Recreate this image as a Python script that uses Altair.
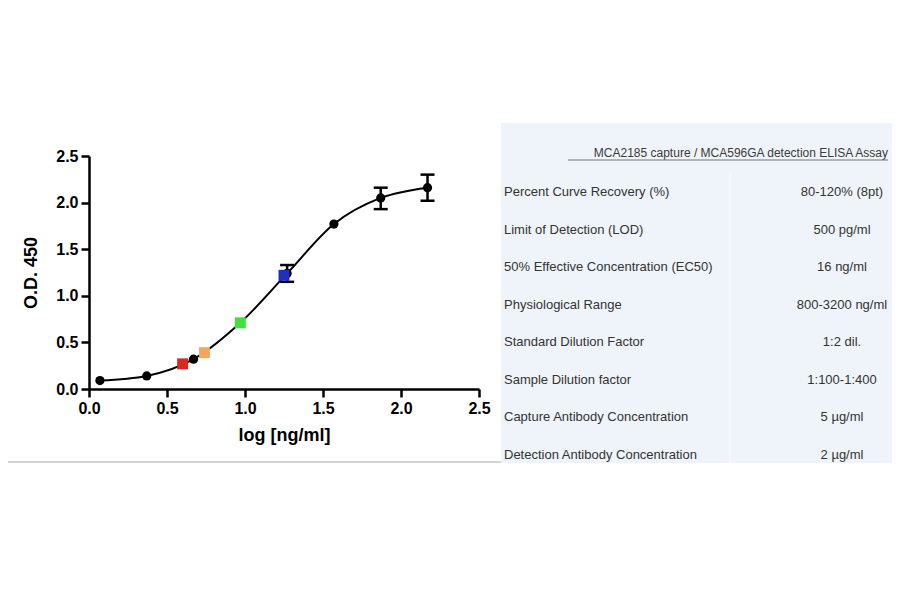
import altair as alt
import pandas as pd

# standard curve: log [ng/ml] vs O.D. 450
std_x = [0.07, 0.37, 0.67, 0.97, 1.27, 1.57, 1.87, 2.17]
std_y = [0.09, 0.14, 0.32, 0.71, 1.24, 1.77, 2.05, 2.16]

# error bars (lower / upper)
err_x = [1.27, 1.87, 2.17]
err_lo = [1.15, 1.93, 2.02]
err_hi = [1.33, 2.16, 2.30]

# samples drawn as coloured squares
smp_name = ['red', 'orange', 'green', 'blue']
smp_x = [0.60, 0.74, 0.97, 1.25]
smp_y = [0.27, 0.39, 0.71, 1.22]
smp_color = ['#d8281f', '#f2a660', '#3ee23a', '#1f30c0']

axis_ticks = [0.0, 0.5, 1.0, 1.5, 2.0, 2.5]

table_header = 'MCA2185 capture / MCA596GA detection ELISA Assay'
table_labels = [
    'Percent Curve Recovery (%)',
    'Limit of Detection (LOD)',
    '50% Effective Concentration (EC50)',
    'Physiological Range',
    'Standard Dilution Factor',
    'Sample Dilution factor',
    'Capture Antibody Concentration',
    'Detection Antibody Concentration',
]
table_values = [
    '80-120% (8pt)',
    '500 pg/ml',
    '16 ng/ml',
    '800-3200 ng/ml',
    '1:2 dil.',
    '1:100-1:400',
    '5 µg/ml',
    '2 µg/ml',
]

FONT = 'Liberation Sans'
W, H = 884, 560


def xenc(field):
    return alt.X(
        f'{field}:Q',
        scale=alt.Scale(domain=[0, 2.5], range=[81, 471], nice=False, zero=False),
        axis=alt.Axis(title='log [ng/ml]', values=axis_ticks, format='.1f',
                      offset=381 - H, titlePadding=10),
    )


def yenc(field):
    return alt.Y(
        f'{field}:Q',
        scale=alt.Scale(domain=[0, 2.5], range=[381, 148], nice=False, zero=False),
        axis=alt.Axis(title='O.D. 450', values=axis_ticks, format='.1f',
                      offset=-81, titlePadding=15),
    )


std_df = pd.DataFrame({'x': std_x, 'y': std_y})
err_df = pd.DataFrame({'x': err_x, 'lo': err_lo, 'hi': err_hi})
smp_df = pd.DataFrame({'name': smp_name, 'x': smp_x, 'y': smp_y})

curve = alt.Chart(std_df).mark_line(
    color='black', strokeWidth=2, interpolate='monotone'
).encode(x=xenc('x'), y=yenc('y'))

bars = alt.Chart(err_df).mark_rule(color='black', strokeWidth=2.5).encode(
    x=xenc('x'), y=yenc('lo'), y2='hi:Q'
)

caps = alt.Chart(err_df).transform_fold(['lo', 'hi']).mark_tick(
    color='black', orient='horizontal', size=14, thickness=2.5, opacity=1
).encode(x=xenc('x'), y=yenc('value'))

points = alt.Chart(std_df).mark_circle(color='black', size=85, opacity=1).encode(
    x=xenc('x'), y=yenc('y')
)

squares = alt.Chart(smp_df).mark_square(size=120, opacity=1).encode(
    x=xenc('x'), y=yenc('y'),
    color=alt.Color('name:N', scale=alt.Scale(domain=smp_name, range=smp_color), legend=None),
)

scatter = alt.layer(curve, bars, caps, points, squares)

# table on the right
one = pd.DataFrame({'a': [0]})
rows_df = pd.DataFrame({'label': table_labels, 'value': table_values})
yrow = alt.Y('label:N', scale=alt.Scale(type='point', domain=table_labels,
                                        range=[184, 447], padding=0), axis=None)

box = alt.Chart(one).mark_rect(color='#eef4f9').encode(
    x=alt.value(493), x2=alt.value(W), y=alt.value(115), y2=alt.value(455)
)
divider = alt.Chart(one).mark_rule(color='#f7fafc', strokeWidth=1.5).encode(
    x=alt.value(722), y=alt.value(165), y2=alt.value(455)
)
baseline = alt.Chart(one).mark_rule(color='#c4c4c4', strokeWidth=1.5).encode(
    x=alt.value(0), x2=alt.value(493), y=alt.value(454)
)
header = alt.Chart(pd.DataFrame({'t': [table_header]})).mark_text(
    align='right', baseline='middle', font=FONT, fontSize=12, color='#3a3a3a'
).encode(x=alt.value(880), y=alt.value(145), text='t:N')
underline = alt.Chart(one).mark_rule(color='#777777', strokeWidth=1).encode(
    x=alt.value(560), x2=alt.value(880), y=alt.value(152)
)
labels = alt.Chart(rows_df).mark_text(
    align='left', baseline='middle', font=FONT, fontSize=13, color='#333333'
).encode(x=alt.value(496), y=yrow, text='label:N')
values = alt.Chart(rows_df).mark_text(
    align='center', baseline='middle', font=FONT, fontSize=13, color='#333333'
).encode(x=alt.value(834), y=yrow, text='value:N')

table = alt.layer(box, divider, header, underline, labels, values)

chart = alt.layer(baseline, table, scatter).resolve_scale(
    x='independent', y='independent'
).properties(
    width=W, height=H, padding=0, autosize=alt.AutoSizeParams(type='none')
).configure_view(
    stroke=None
).configure_axis(
    grid=False,
    domainColor='black', domainWidth=2.5,
    tickColor='black', tickWidth=2.5, tickSize=8,
    labelFont=FONT, labelFontSize=16, labelFontWeight='bold', labelColor='black',
    labelPadding=3, labelFlush=False,
    titleFont=FONT, titleFontSize=18, titleFontWeight='bold', titleColor='black',
)

chart.save('out.html', embed_options={'renderer': 'svg', 'actions': False})
